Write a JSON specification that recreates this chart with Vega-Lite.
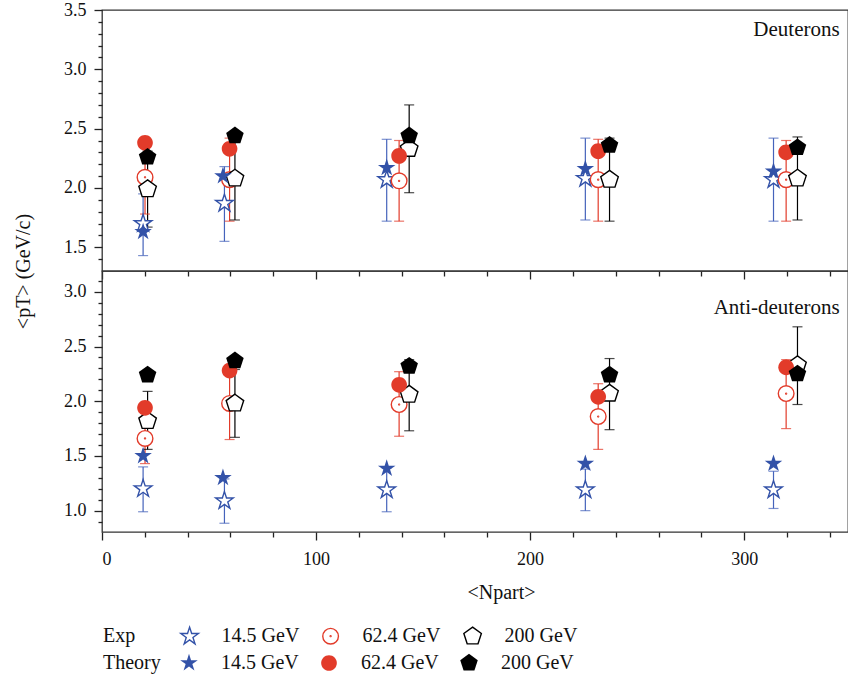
{
  "$schema": "https://vega.github.io/schema/vega-lite/v6.json",
  "background": "white",
  "padding": {"left": 12, "top": 0, "right": 0, "bottom": 0},
  "bounds": "flush",
  "spacing": 0,
  "config": {
    "font": "'Liberation Serif', 'DejaVu Serif', serif",
    "view": {"stroke": "#333333", "strokeWidth": 1.3},
    "axis": {"labelFont": "'Liberation Serif', 'DejaVu Serif', serif", "labelFontSize": 18, "labelColor": "#111111", "titleFont": "'Liberation Serif', 'DejaVu Serif', serif", "titleFontSize": 20, "titleFontWeight": "normal", "titleColor": "#111111", "grid": false, "domain": false, "tickColor": "#222222", "tickWidth": 1.3},
    "legend": {"labelFont": "'Liberation Serif', 'DejaVu Serif', serif", "titleFont": "'Liberation Serif', 'DejaVu Serif', serif", "labelFontSize": 20, "titleFontSize": 20, "titleFontWeight": "normal", "labelColor": "#111111", "titleColor": "#111111", "padding": 0}
  },
  "datasets": {
    "deut": [
      {"kind": "Exp", "energy": "14.5 GeV", "n": 19.2, "pt": 1.70, "lo": 1.43, "hi": 1.95},
      {"kind": "Exp", "energy": "14.5 GeV", "n": 57.2, "pt": 1.87, "lo": 1.55, "hi": 2.18},
      {"kind": "Exp", "energy": "14.5 GeV", "n": 133, "pt": 2.07, "lo": 1.72, "hi": 2.41},
      {"kind": "Exp", "energy": "14.5 GeV", "n": 225.8, "pt": 2.08, "lo": 1.73, "hi": 2.42},
      {"kind": "Exp", "energy": "14.5 GeV", "n": 313.7, "pt": 2.07, "lo": 1.72, "hi": 2.42},
      {"kind": "Theory", "energy": "14.5 GeV", "n": 19.2, "pt": 1.63},
      {"kind": "Theory", "energy": "14.5 GeV", "n": 56.5, "pt": 2.10},
      {"kind": "Theory", "energy": "14.5 GeV", "n": 133, "pt": 2.17},
      {"kind": "Theory", "energy": "14.5 GeV", "n": 225.8, "pt": 2.16},
      {"kind": "Theory", "energy": "14.5 GeV", "n": 313.7, "pt": 2.14},
      {"kind": "Exp", "energy": "62.4 GeV", "n": 20.1, "pt": 2.09, "lo": 1.78, "hi": 2.40},
      {"kind": "Exp", "energy": "62.4 GeV", "n": 59.6, "pt": 2.07, "lo": 1.72, "hi": 2.42},
      {"kind": "Exp", "energy": "62.4 GeV", "n": 138.8, "pt": 2.06, "lo": 1.72, "hi": 2.40},
      {"kind": "Exp", "energy": "62.4 GeV", "n": 231.8, "pt": 2.07, "lo": 1.72, "hi": 2.41},
      {"kind": "Exp", "energy": "62.4 GeV", "n": 319.6, "pt": 2.07, "lo": 1.72, "hi": 2.40},
      {"kind": "Theory", "energy": "62.4 GeV", "n": 20.1, "pt": 2.38},
      {"kind": "Theory", "energy": "62.4 GeV", "n": 59.6, "pt": 2.33},
      {"kind": "Theory", "energy": "62.4 GeV", "n": 138.8, "pt": 2.27},
      {"kind": "Theory", "energy": "62.4 GeV", "n": 231.8, "pt": 2.31},
      {"kind": "Theory", "energy": "62.4 GeV", "n": 319.6, "pt": 2.30},
      {"kind": "Exp", "energy": "200 GeV", "n": 21.3, "pt": 1.99, "lo": 1.67, "hi": 2.31},
      {"kind": "Exp", "energy": "200 GeV", "n": 62.1, "pt": 2.08, "lo": 1.73, "hi": 2.43},
      {"kind": "Exp", "energy": "200 GeV", "n": 143.5, "pt": 2.33, "lo": 1.96, "hi": 2.70},
      {"kind": "Exp", "energy": "200 GeV", "n": 237.1, "pt": 2.07, "lo": 1.72, "hi": 2.42},
      {"kind": "Exp", "energy": "200 GeV", "n": 324.9, "pt": 2.08, "lo": 1.73, "hi": 2.43},
      {"kind": "Theory", "energy": "200 GeV", "n": 21.3, "pt": 2.26},
      {"kind": "Theory", "energy": "200 GeV", "n": 62.1, "pt": 2.44},
      {"kind": "Theory", "energy": "200 GeV", "n": 143.5, "pt": 2.44},
      {"kind": "Theory", "energy": "200 GeV", "n": 237.1, "pt": 2.36},
      {"kind": "Theory", "energy": "200 GeV", "n": 324.9, "pt": 2.34}
    ],
    "anti": [
      {"kind": "Exp", "energy": "14.5 GeV", "n": 19.2, "pt": 1.20, "lo": 0.99, "hi": 1.40},
      {"kind": "Exp", "energy": "14.5 GeV", "n": 57.2, "pt": 1.09, "lo": 0.885, "hi": 1.29},
      {"kind": "Exp", "energy": "14.5 GeV", "n": 133, "pt": 1.19, "lo": 0.99, "hi": 1.39},
      {"kind": "Exp", "energy": "14.5 GeV", "n": 225.8, "pt": 1.19, "lo": 1.00, "hi": 1.38},
      {"kind": "Exp", "energy": "14.5 GeV", "n": 313.7, "pt": 1.19, "lo": 1.02, "hi": 1.36},
      {"kind": "Theory", "energy": "14.5 GeV", "n": 19.2, "pt": 1.50},
      {"kind": "Theory", "energy": "14.5 GeV", "n": 56.5, "pt": 1.30},
      {"kind": "Theory", "energy": "14.5 GeV", "n": 133, "pt": 1.385},
      {"kind": "Theory", "energy": "14.5 GeV", "n": 225.8, "pt": 1.43},
      {"kind": "Theory", "energy": "14.5 GeV", "n": 313.7, "pt": 1.43},
      {"kind": "Exp", "energy": "62.4 GeV", "n": 20.1, "pt": 1.66, "lo": 1.43, "hi": 1.89},
      {"kind": "Exp", "energy": "62.4 GeV", "n": 59.6, "pt": 1.98, "lo": 1.65, "hi": 2.31},
      {"kind": "Exp", "energy": "62.4 GeV", "n": 138.8, "pt": 1.97, "lo": 1.68, "hi": 2.27},
      {"kind": "Exp", "energy": "62.4 GeV", "n": 231.8, "pt": 1.86, "lo": 1.56, "hi": 2.16},
      {"kind": "Exp", "energy": "62.4 GeV", "n": 319.6, "pt": 2.07, "lo": 1.75, "hi": 2.38},
      {"kind": "Theory", "energy": "62.4 GeV", "n": 20.1, "pt": 1.94},
      {"kind": "Theory", "energy": "62.4 GeV", "n": 59.6, "pt": 2.28},
      {"kind": "Theory", "energy": "62.4 GeV", "n": 138.8, "pt": 2.15},
      {"kind": "Theory", "energy": "62.4 GeV", "n": 231.8, "pt": 2.04},
      {"kind": "Theory", "energy": "62.4 GeV", "n": 319.6, "pt": 2.31},
      {"kind": "Exp", "energy": "200 GeV", "n": 21.3, "pt": 1.82, "lo": 1.56, "hi": 2.09},
      {"kind": "Exp", "energy": "200 GeV", "n": 62.1, "pt": 1.98, "lo": 1.67, "hi": 2.29},
      {"kind": "Exp", "energy": "200 GeV", "n": 143.5, "pt": 2.06, "lo": 1.73, "hi": 2.38},
      {"kind": "Exp", "energy": "200 GeV", "n": 237.1, "pt": 2.07, "lo": 1.74, "hi": 2.39},
      {"kind": "Exp", "energy": "200 GeV", "n": 324.9, "pt": 2.33, "lo": 1.97, "hi": 2.68},
      {"kind": "Theory", "energy": "200 GeV", "n": 21.3, "pt": 2.24},
      {"kind": "Theory", "energy": "200 GeV", "n": 62.1, "pt": 2.37},
      {"kind": "Theory", "energy": "200 GeV", "n": 143.5, "pt": 2.32},
      {"kind": "Theory", "energy": "200 GeV", "n": 237.1, "pt": 2.24},
      {"kind": "Theory", "energy": "200 GeV", "n": 324.9, "pt": 2.25}
    ]
  },
  "vconcat": [
    {
      "width": 746,
      "height": 261,
      "data": {"name": "deut"},
      "layer": [
        {
          "transform": [{"filter": "datum.kind === 'Exp'"}],
          "mark": {"type": "rule", "strokeWidth": 1.2},
          "encoding": {
            "x": {"field": "n", "type": "quantitative", "scale": {"domain": [0, 348.5], "nice": false, "zero": false}, "axis": {"orient": "bottom", "values": [0, 100, 200, 300], "labels": false, "tickSize": 8, "title": null}},
            "y": {"field": "lo", "type": "quantitative", "scale": {"domain": [1.3, 3.5], "nice": false, "zero": false}, "axis": {"orient": "left", "values": [1.5, 2.0, 2.5, 3.0, 3.5], "format": ".1f", "tickSize": 8, "labelPadding": 8, "title": "<pT> (GeV/c)", "titleY": 261, "titlePadding": 30}},
            "y2": {"field": "hi"},
            "color": {"field": "energy", "type": "nominal", "scale": {"domain": ["14.5 GeV", "62.4 GeV", "200 GeV"], "range": ["#4563bb", "#e23b2a", "#000000"]}, "legend": null}
          }
        },
        {
          "transform": [{"filter": "datum.kind === 'Exp'"}, {"fold": ["lo", "hi"], "as": ["end", "v"]}],
          "mark": {"type": "tick", "orient": "horizontal", "size": 10, "thickness": 1.2},
          "encoding": {
            "x": {"field": "n", "type": "quantitative", "scale": {"domain": [0, 348.5], "nice": false, "zero": false}, "axis": {"orient": "bottom", "values": [20, 40, 60, 80, 120, 140, 160, 180, 220, 240, 260, 280, 320, 340], "labels": false, "tickSize": 5, "title": null}},
            "y": {"field": "v", "type": "quantitative", "scale": {"domain": [1.3, 3.5], "nice": false, "zero": false}, "axis": {"orient": "left", "values": [1.4, 1.6, 1.7, 1.8, 1.9, 2.1, 2.2, 2.3, 2.4, 2.6, 2.7, 2.8, 2.9, 3.1, 3.2, 3.3, 3.4], "labels": false, "tickSize": 4, "title": null}},
            "color": {"field": "energy", "type": "nominal", "scale": {"domain": ["14.5 GeV", "62.4 GeV", "200 GeV"], "range": ["#4563bb", "#e23b2a", "#000000"]}, "legend": null}
          }
        },
        {
          "transform": [{"filter": "datum.kind === 'Exp'"}],
          "mark": {"type": "point", "filled": false, "fill": "white", "strokeWidth": 1.4, "opacity": 1, "size": 340},
          "encoding": {
            "x": {"field": "n", "type": "quantitative", "scale": {"domain": [0, 348.5], "nice": false, "zero": false}, "axis": null},
            "y": {"field": "pt", "type": "quantitative", "scale": {"domain": [1.3, 3.5], "nice": false, "zero": false}, "axis": null},
            "shape": {"field": "energy", "type": "nominal", "scale": {"domain": ["14.5 GeV", "62.4 GeV", "200 GeV"], "range": ["M0,-1L0.2245,-0.309L0.951,-0.309L0.3633,0.118L0.5878,0.809L0,0.382L-0.5878,0.809L-0.3633,0.118L-0.951,-0.309L-0.2245,-0.309Z", "M0.85,0A0.85,0.85 0 1,1 -0.85,0A0.85,0.85 0 1,1 0.85,0ZM0.05,0A0.05,0.05 0 1,1 -0.05,0A0.05,0.05 0 1,1 0.05,0Z", "M0,-1L0.951,-0.309L0.5878,0.809L-0.5878,0.809L-0.951,-0.309Z"]}, "legend": null},
            "stroke": {"field": "energy", "type": "nominal", "scale": {"domain": ["14.5 GeV", "62.4 GeV", "200 GeV"], "range": ["#3352a8", "#e23b2a", "#000000"]}, "legend": null}
          }
        },
        {
          "transform": [{"filter": "datum.kind === 'Theory'"}],
          "mark": {"type": "point", "filled": true, "opacity": 1, "size": 340, "strokeWidth": 0},
          "encoding": {
            "x": {"field": "n", "type": "quantitative", "scale": {"domain": [0, 348.5], "nice": false, "zero": false}, "axis": null},
            "y": {"field": "pt", "type": "quantitative", "scale": {"domain": [1.3, 3.5], "nice": false, "zero": false}, "axis": null},
            "shape": {"field": "energy", "type": "nominal", "scale": {"domain": ["14.5 GeV", "62.4 GeV", "200 GeV"], "range": ["M0,-1L0.2245,-0.309L0.951,-0.309L0.3633,0.118L0.5878,0.809L0,0.382L-0.5878,0.809L-0.3633,0.118L-0.951,-0.309L-0.2245,-0.309Z", "M0.85,0A0.85,0.85 0 1,1 -0.85,0A0.85,0.85 0 1,1 0.85,0Z", "M0,-1L0.951,-0.309L0.5878,0.809L-0.5878,0.809L-0.951,-0.309Z"]}, "legend": null},
            "fill": {"field": "energy", "type": "nominal", "scale": {"domain": ["14.5 GeV", "62.4 GeV", "200 GeV"], "range": ["#3352a8", "#e23b2a", "#000000"]}, "legend": null}
          }
        },
        {
          "data": {"values": [{"label": "Deuterons"}]},
          "mark": {"type": "text", "align": "right", "baseline": "alphabetic", "fontSize": 21, "font": "'Liberation Serif', 'DejaVu Serif', serif", "fill": "#111111", "strokeWidth": 0},
          "encoding": {
            "x": {"datum": 344.6, "type": "quantitative", "scale": {"domain": [0, 348.5], "nice": false, "zero": false}, "axis": null},
            "y": {"datum": 3.281, "type": "quantitative", "scale": {"domain": [1.3, 3.5], "nice": false, "zero": false}, "axis": null},
            "text": {"field": "label", "type": "nominal"}
          }
        }
      ],
      "resolve": {"axis": {"x": "independent", "y": "independent"}}
    },
    {
      "width": 746,
      "height": 261,
      "data": {"name": "anti"},
      "layer": [
        {
          "transform": [{"filter": "datum.kind === 'Exp'"}],
          "mark": {"type": "rule", "strokeWidth": 1.2},
          "encoding": {
            "x": {"field": "n", "type": "quantitative", "scale": {"domain": [0, 348.5], "nice": false, "zero": false}, "axis": {"orient": "bottom", "values": [0, 100, 200, 300], "tickSize": 8, "labelPadding": 10, "title": "<Npart>", "titleX": 399, "titlePadding": 14}},
            "y": {"field": "lo", "type": "quantitative", "scale": {"domain": [0.805, 3.19], "nice": false, "zero": false}, "axis": {"orient": "left", "values": [1.0, 1.5, 2.0, 2.5, 3.0], "format": ".1f", "tickSize": 8, "labelPadding": 8, "title": null}},
            "y2": {"field": "hi"},
            "color": {"field": "energy", "type": "nominal", "scale": {"domain": ["14.5 GeV", "62.4 GeV", "200 GeV"], "range": ["#4563bb", "#e23b2a", "#000000"]}, "legend": null}
          }
        },
        {
          "transform": [{"filter": "datum.kind === 'Exp'"}, {"fold": ["lo", "hi"], "as": ["end", "v"]}],
          "mark": {"type": "tick", "orient": "horizontal", "size": 10, "thickness": 1.2},
          "encoding": {
            "x": {"field": "n", "type": "quantitative", "scale": {"domain": [0, 348.5], "nice": false, "zero": false}, "axis": {"orient": "bottom", "values": [20, 40, 60, 80, 120, 140, 160, 180, 220, 240, 260, 280, 320, 340], "labels": false, "tickSize": 5, "title": null}},
            "y": {"field": "v", "type": "quantitative", "scale": {"domain": [0.805, 3.19], "nice": false, "zero": false}, "axis": {"orient": "left", "values": [0.9, 1.1, 1.2, 1.3, 1.4, 1.6, 1.7, 1.8, 1.9, 2.1, 2.2, 2.3, 2.4, 2.6, 2.7, 2.8, 2.9, 3.1], "labels": false, "tickSize": 4, "title": null}},
            "color": {"field": "energy", "type": "nominal", "scale": {"domain": ["14.5 GeV", "62.4 GeV", "200 GeV"], "range": ["#4563bb", "#e23b2a", "#000000"]}, "legend": null}
          }
        },
        {
          "transform": [{"filter": "datum.kind === 'Exp'"}],
          "mark": {"type": "point", "filled": false, "fill": "white", "strokeWidth": 1.4, "opacity": 1, "size": 340},
          "encoding": {
            "x": {"field": "n", "type": "quantitative", "scale": {"domain": [0, 348.5], "nice": false, "zero": false}, "axis": null},
            "y": {"field": "pt", "type": "quantitative", "scale": {"domain": [0.805, 3.19], "nice": false, "zero": false}, "axis": null},
            "shape": {"field": "energy", "type": "nominal", "scale": {"domain": ["14.5 GeV", "62.4 GeV", "200 GeV"], "range": ["M0,-1L0.2245,-0.309L0.951,-0.309L0.3633,0.118L0.5878,0.809L0,0.382L-0.5878,0.809L-0.3633,0.118L-0.951,-0.309L-0.2245,-0.309Z", "M0.85,0A0.85,0.85 0 1,1 -0.85,0A0.85,0.85 0 1,1 0.85,0ZM0.05,0A0.05,0.05 0 1,1 -0.05,0A0.05,0.05 0 1,1 0.05,0Z", "M0,-1L0.951,-0.309L0.5878,0.809L-0.5878,0.809L-0.951,-0.309Z"]},
              "legend": {"title": "Exp", "orient": "none", "legendX": 1, "legendY": 355, "direction": "horizontal", "columns": 3, "titleOrient": "left", "titleBaseline": "middle", "titleAnchor": "middle", "titlePadding": 43.6, "symbolSize": 340, "symbolStrokeWidth": 1.4, "labelOffset": 22, "columnPadding": 20}},
            "stroke": {"field": "energy", "type": "nominal", "scale": {"domain": ["14.5 GeV", "62.4 GeV", "200 GeV"], "range": ["#3352a8", "#e23b2a", "#000000"]},
              "legend": {"title": "Exp", "orient": "none", "legendX": 1, "legendY": 355, "direction": "horizontal", "columns": 3, "titleOrient": "left", "titleBaseline": "middle", "titleAnchor": "middle", "titlePadding": 43.6, "symbolSize": 340, "symbolStrokeWidth": 1.4, "labelOffset": 22, "columnPadding": 20}}
          }
        },
        {
          "transform": [{"filter": "datum.kind === 'Theory'"}],
          "mark": {"type": "point", "filled": true, "opacity": 1, "size": 340, "strokeWidth": 0},
          "encoding": {
            "x": {"field": "n", "type": "quantitative", "scale": {"domain": [0, 348.5], "nice": false, "zero": false}, "axis": null},
            "y": {"field": "pt", "type": "quantitative", "scale": {"domain": [0.805, 3.19], "nice": false, "zero": false}, "axis": null},
            "shape": {"field": "energy", "type": "nominal", "scale": {"domain": ["14.5 GeV", "62.4 GeV", "200 GeV"], "range": ["M0,-1L0.2245,-0.309L0.951,-0.309L0.3633,0.118L0.5878,0.809L0,0.382L-0.5878,0.809L-0.3633,0.118L-0.951,-0.309L-0.2245,-0.309Z", "M0.85,0A0.85,0.85 0 1,1 -0.85,0A0.85,0.85 0 1,1 0.85,0Z", "M0,-1L0.951,-0.309L0.5878,0.809L-0.5878,0.809L-0.951,-0.309Z"]},
              "legend": {"title": "Theory", "orient": "none", "legendX": 1, "legendY": 382, "direction": "horizontal", "columns": 3, "titleOrient": "left", "titleBaseline": "middle", "titleAnchor": "middle", "titlePadding": 18, "symbolSize": 340, "symbolStrokeWidth": 0, "labelOffset": 22, "columnPadding": 20}},
            "fill": {"field": "energy", "type": "nominal", "scale": {"domain": ["14.5 GeV", "62.4 GeV", "200 GeV"], "range": ["#3352a8", "#e23b2a", "#000000"]},
              "legend": {"title": "Theory", "orient": "none", "legendX": 1, "legendY": 382, "direction": "horizontal", "columns": 3, "titleOrient": "left", "titleBaseline": "middle", "titleAnchor": "middle", "titlePadding": 18, "symbolSize": 340, "symbolStrokeWidth": 0, "labelOffset": 22, "columnPadding": 20}}
          }
        },
        {
          "data": {"values": [{"label": "Anti-deuterons"}]},
          "mark": {"type": "text", "align": "right", "baseline": "alphabetic", "fontSize": 21, "font": "'Liberation Serif', 'DejaVu Serif', serif", "fill": "#111111", "strokeWidth": 0},
          "encoding": {
            "x": {"datum": 344.6, "type": "quantitative", "scale": {"domain": [0, 348.5], "nice": false, "zero": false}, "axis": null},
            "y": {"datum": 2.796, "type": "quantitative", "scale": {"domain": [0.805, 3.19], "nice": false, "zero": false}, "axis": null},
            "text": {"field": "label", "type": "nominal"}
          }
        }
      ],
      "resolve": {
        "scale": {"shape": "independent", "stroke": "independent", "fill": "independent", "color": "independent"},
        "axis": {"x": "independent", "y": "independent"},
        "legend": {"shape": "independent", "stroke": "independent", "fill": "independent"}
      }
    }
  ]
}
